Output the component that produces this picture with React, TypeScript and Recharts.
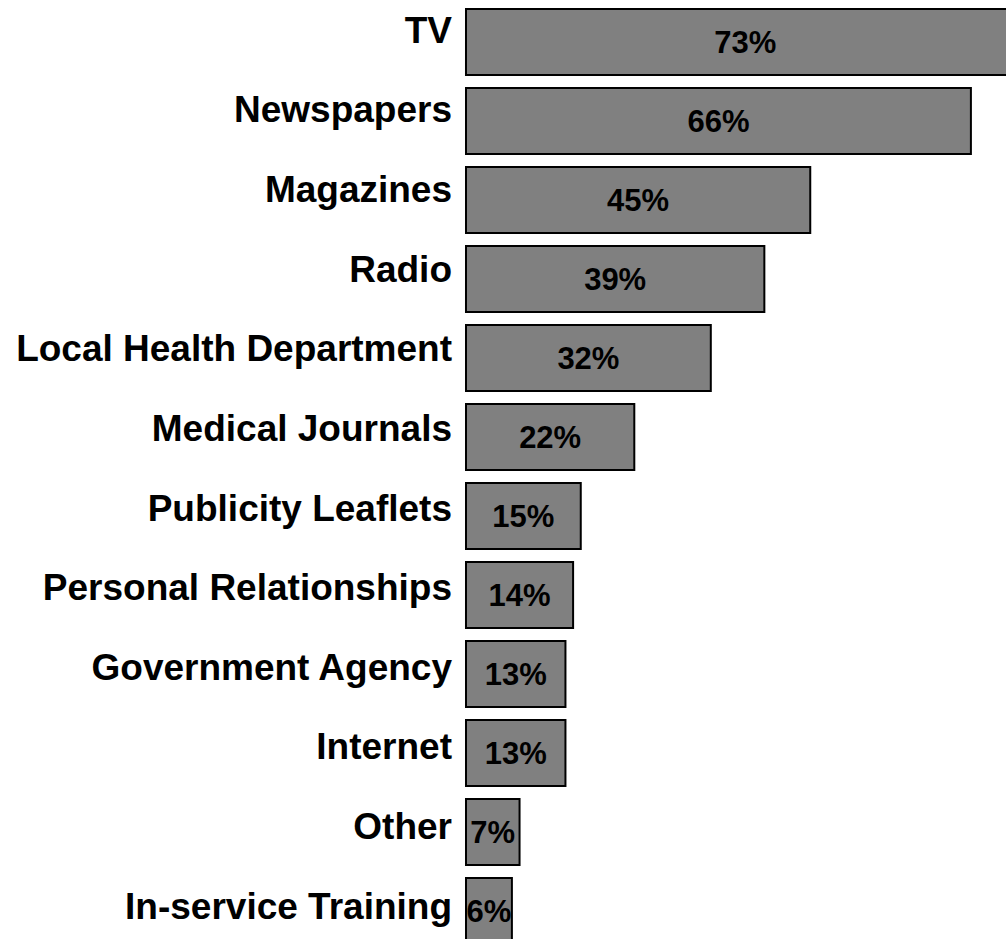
import React from 'react';
import { BarChart, Bar, XAxis, YAxis, LabelList } from 'recharts';

const categories = [
  'TV',
  'Newspapers',
  'Magazines',
  'Radio',
  'Local Health Department',
  'Medical Journals',
  'Publicity Leaflets',
  'Personal Relationships',
  'Government Agency',
  'Internet',
  'Other',
  'In-service Training',
];

const percents = [73, 66, 45, 39, 32, 22, 15, 14, 13, 13, 7, 6];

const data = categories.map((name, i) => ({ name, value: percents[i] }));

const FONT = 'Arial, "Liberation Sans", Helvetica, sans-serif';

// etiquetas de categoría, un poco por encima del centro de la barra
const CategoryTick = (props: any) => {
  const { x, y, payload, index } = props;
  const shift = -12 + index * 0.65;
  return (
    <text
      x={x}
      y={y + shift}
      dy="0.355em"
      textAnchor="end"
      fill="#000"
      fontFamily={FONT}
      fontWeight="bold"
      fontSize={37}
    >
      {payload.value}
    </text>
  );
};

export default function App() {
  return (
    <div
      style={{
        position: 'absolute',
        top: 0,
        left: 0,
        width: 1006,
        height: 939,
        overflow: 'hidden',
        background: '#fff',
      }}
    >
      <BarChart
        width={1078}
        height={952}
        data={data}
        layout="vertical"
        margin={{ top: 2, right: 0, bottom: 2, left: 0 }}
      >
        <XAxis type="number" domain={[0, 80]} hide />
        <YAxis
          type="category"
          dataKey="name"
          width={466}
          axisLine={false}
          tickLine={false}
          tickSize={0}
          tickMargin={14}
          interval={0}
          tick={<CategoryTick />}
        />
        <Bar
          dataKey="value"
          fill="#808080"
          stroke="#000"
          strokeWidth={2}
          barSize={66}
          isAnimationActive={false}
        >
          <LabelList
            dataKey="value"
            position="center"
            formatter={(v: any) => `${v}%`}
            fill="#000"
            fontFamily={FONT}
            fontWeight="bold"
            fontSize={31}
          />
        </Bar>
      </BarChart>
    </div>
  );
}
